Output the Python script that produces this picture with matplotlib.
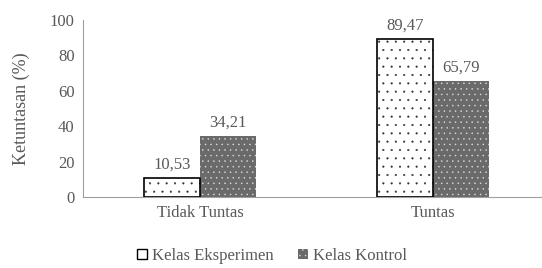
import matplotlib.pyplot as plt
import numpy as np
from matplotlib.patches import Patch

categories = ['Tidak Tuntas', 'Tuntas']
eksperimen = [10.53, 89.47]
kontrol = [34.21, 65.79]
yticks = [0, 20, 40, 60, 80, 100]

plt.rcParams['font.family'] = ['Liberation Serif', 'DejaVu Serif']
plt.rcParams['hatch.linewidth'] = 0.3
grey = '#595959'

fig = plt.figure(figsize=(5.42, 2.68), dpi=100)
ax = fig.add_axes([83 / 542, 71 / 268, 459 / 542, 177 / 268])

x = np.arange(len(categories))
w = 0.24

# Kelas Eksperimen: white with black dots
ax.bar(x - w / 2, eksperimen, w, facecolor='white', edgecolor='none', zorder=2)
ax.bar(x - w / 2, eksperimen, w, fill=False, edgecolor='#333333', linewidth=0,
       hatch='..', zorder=3)
ax.bar(x - w / 2, eksperimen, w, fill=False, edgecolor='black', linewidth=1.2, zorder=4)
# Kelas Kontrol: dark grey with white dots
ax.bar(x + w / 2, kontrol, w, facecolor='#6a6a6a', edgecolor='none', zorder=2)
ax.bar(x + w / 2, kontrol, w, fill=False, edgecolor='#e0e0e0', linewidth=0,
       hatch='...', zorder=3)

for xi, v in zip(x - w / 2, eksperimen):
    ax.text(xi, v + 3, f'{v:.2f}'.replace('.', ','), ha='center', va='bottom',
            fontsize=12, color=grey)
for xi, v in zip(x + w / 2, kontrol):
    ax.text(xi, v + 3, f'{v:.2f}'.replace('.', ','), ha='center', va='bottom',
            fontsize=12, color=grey)

ax.set_xlim(-0.502, 1.468)
ax.set_ylim(0, 100)
ax.set_yticks(yticks)
ax.set_xticks(x)
ax.set_xticklabels(categories)
ax.tick_params(axis='both', length=0, labelsize=12, labelcolor=grey, pad=6)
ax.tick_params(axis='x', pad=6)
ax.set_ylabel('Ketuntasan (%)', fontsize=13, color=grey, labelpad=14)

for s in ['top', 'right']:
    ax.spines[s].set_visible(False)
ax.spines['left'].set_color('#a0a0a0')
ax.spines['bottom'].set_color('#a0a0a0')

handles = [Patch(facecolor='white', edgecolor='black', label='Kelas Eksperimen'),
           Patch(facecolor='#6a6a6a', edgecolor='#e0e0e0', hatch='...', linewidth=0,
                 label='Kelas Kontrol')]
fig.legend(handles=handles, loc='center', bbox_to_anchor=(272 / 542, 12 / 268),
           ncol=2, frameon=False, fontsize=12, handlelength=0.6, handleheight=0.6,
           handletextpad=0.3, columnspacing=1.5, labelcolor=grey)

fig.savefig('out.png', dpi=100)
